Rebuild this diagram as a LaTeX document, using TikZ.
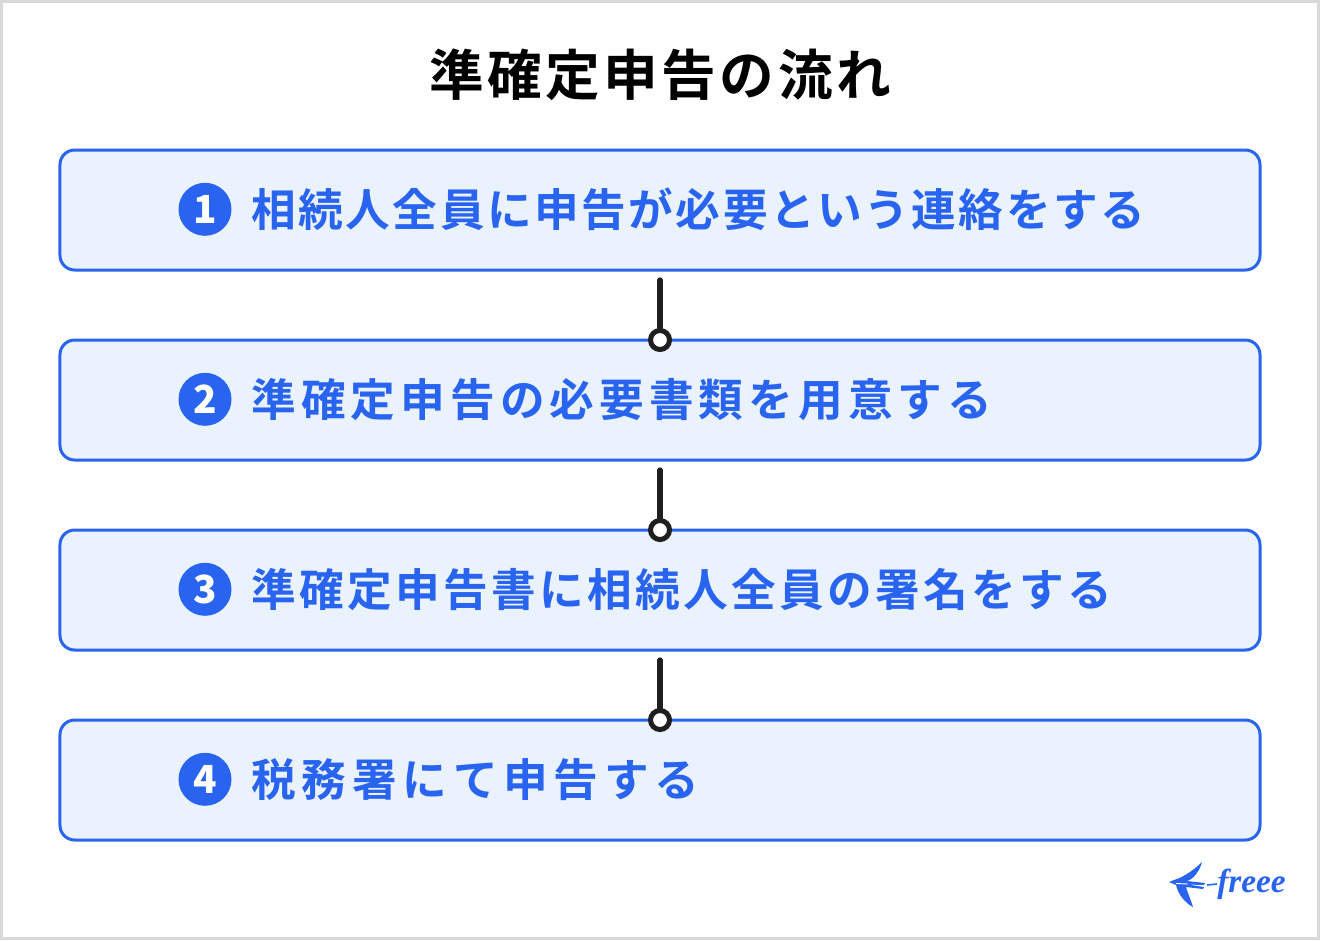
\documentclass[tikz,border=0pt]{standalone}
\usepackage{fontspec}
\setmainfont{Noto Sans CJK JP}[BoldFont={Noto Sans CJK JP Bold}]
\newfontfamily\logofont{Liberation Serif}
\newfontfamily\badgefont{Noto Sans CJK JP Black}
\usetikzlibrary{matrix,positioning}
\definecolor{stepblue}{HTML}{2864F0}
\definecolor{stepfill}{HTML}{EAF2FE}
\definecolor{framegray}{HTML}{D9D9D9}
\definecolor{linkblack}{HTML}{1F1F1F}
\newcommand{\steptxt}[2]{\addfontfeature{LetterSpace=#1}#2}
\tikzset{
  stepbox/.style={draw=stepblue,fill=stepfill,line width=2.25pt,rounded corners=11pt,
    minimum width=900pt,minimum height=90pt,inner sep=0pt,outer sep=0pt},
  badge/.style={circle,fill=stepblue,text=white,font=\fontsize{29}{29}\selectfont\badgefont,
    minimum size=39.75pt,inner sep=0pt},
  steplabel/.style={text=stepblue,font=\fontsize{33.5}{36}\selectfont\bfseries,inner sep=0pt},
  linkdot/.style={circle,draw=linkblack,fill=white,line width=3.75pt,minimum size=14.25pt,inner sep=0pt},
  link/.style={draw=linkblack,line width=4pt,line cap=round},
}
\begin{document}
\begin{tikzpicture}[x=0.75pt,y=-0.75pt]
  \useasboundingbox (0,0) rectangle (1320,940);
  \node (frame) [draw=framegray,fill=white,line width=2.25pt,minimum width=987.75pt,minimum height=702.75pt,
    inner sep=0pt] at (660,470) {};
  \node (title) [font=\fontsize{41}{42}\selectfont\bfseries,inner sep=0pt] at (660,75)
    {\steptxt{6.4}{準確定申告の流れ}};
  \matrix (m) [matrix of nodes,nodes in empty cells,row sep=50.25pt,nodes={stepbox},
    inner sep=0pt,outer sep=0pt] at (660,495)
  {
     \\
     \\
     \\
     \\};
  % numbers and labels
  \node (n1) [badge] at (205,209.3) {1};
  \node (n2) [badge] at (205,399.3) {2};
  \node (n3) [badge] at (205,589.3) {3};
  \node (n4) [badge] at (205,779.3) {4};
  \node (s1) [steplabel,right=14.6pt of n1] {\steptxt{5.6}{相続人全員に申告が必要という連絡をする}};
  \node (s2) [steplabel,right=14.6pt of n2] {\steptxt{11.3}{準確定申告の必要書類を用意する}};
  \node (s3) [steplabel,right=14.6pt of n3] {\steptxt{7.5}{準確定申告書に相続人全員の署名をする}};
  \node (s4) [steplabel,right=14.6pt of n4] {\steptxt{12.8}{税務署にて申告する}};
  % connectors
  \coordinate (c2) at (660,280);
  \coordinate (c3) at (660,470);
  \coordinate (c4) at (660,660);
  \node (d2) [linkdot] at (m-2-1.north) {};
  \node (d3) [linkdot] at (m-3-1.north) {};
  \node (d4) [linkdot] at (m-4-1.north) {};
  \draw[link] (c2) -- (d2);
  \draw[link] (c3) -- (d3);
  \draw[link] (c4) -- (d4);
  % logo
  \fill[stepblue] (1169,882) .. controls (1176,879) and (1181,878) .. (1185,875)
    .. controls (1192,871) and (1197,867) .. (1202,862)
    .. controls (1200,870) and (1194,879) .. (1187,881)
    -- (1205,883) -- (1204,885) -- (1188,884.5) -- (1204,887) -- (1203,889) -- (1186,887)
    .. controls (1188,894) and (1191,900) .. (1193,907)
    .. controls (1185,903) and (1178,894) .. (1176,885)
    -- cycle;
  \draw[white,line width=0.7pt] (1176,883.5) -- (1188,884);
  \node (logo) [text=stepblue,font=\fontsize{25}{25}\selectfont\logofont\bfseries\itshape,inner sep=0pt,anchor=east]
    at (1286,884) {freee};
  \coordinate (l0) at (1207,885);
  \draw[stepblue,line width=1.2pt] (l0) -- (logo.west);
\end{tikzpicture}
\end{document}
